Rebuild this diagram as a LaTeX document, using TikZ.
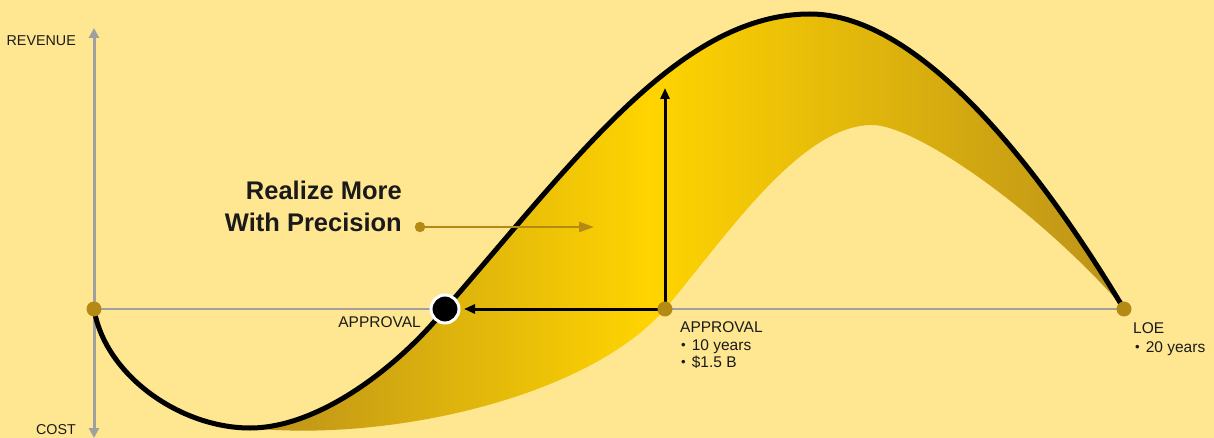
\documentclass[tikz,border=0pt]{standalone}
\usepackage{fontspec}
\setmainfont{Liberation Sans}
\usetikzlibrary{arrows.meta}
\definecolor{bg}{HTML}{FFE691}
\definecolor{gdark}{HTML}{BE9419}
\definecolor{gbright}{HTML}{FFD400}
\definecolor{dotgold}{HTML}{B58A14}
\definecolor{axisgray}{HTML}{A0A0A0}
\definecolor{txt}{HTML}{1A1A1A}
\pgfdeclarehorizontalshading{goldshade}{100bp}{color(0bp)=(gdark); color(26bp)=(gdark); color(48bp)=(gbright); color(74.4bp)=(gdark); color(100bp)=(gdark)}
\newcommand{\smbul}{\raisebox{0.6pt}{\scalebox{0.85}{•}}\hspace{6pt}}
\begin{document}
\begin{tikzpicture}[x=1pt,y=-1pt,
  axislbl/.style={font=\fontsize{14.3}{17}\selectfont, text=txt, inner sep=0pt},
  lbl/.style={font=\fontsize{15.5}{18}\selectfont, text=txt, inner sep=0pt},
  title/.style={font=\fontsize{25.5}{30}\selectfont\bfseries, text=txt, inner sep=0pt},
  vaxis/.style={draw=axisgray, line width=3pt, -{Triangle[length=10pt,width=10pt]}},
  haxis/.style={draw=axisgray, line width=1.5pt},
  curve/.style={draw=black, line width=5pt},
  barrow/.style={draw=black, line width=3pt, -{Triangle[length=11pt,width=9pt]}},
  garrow/.style={draw=dotgold, line width=2.5pt, -{Triangle[length=15pt,width=10pt]}},
  golddot/.style={circle, fill=dotgold, minimum size=15pt, inner sep=0pt},
  smalldot/.style={circle, fill=dotgold, minimum size=10.5pt, inner sep=0pt},
  bigdot/.style={circle, fill=black, draw=white, line width=3pt, minimum size=28pt, inner sep=0pt}]
\useasboundingbox (0,0) rectangle (1214,438);
\fill[bg] (0,0) rectangle (1214,438);
% key points
\coordinate (O) at (94,309);
\coordinate (A1) at (445,309);
\coordinate (A2) at (665,309);
\coordinate (L) at (1124,309);
\coordinate (ytop) at (94,28);
\coordinate (ybot) at (94,438);
\coordinate (uptip) at (665,88);
\coordinate (lefttip) at (464,309);
\coordinate (gtip) at (594,227);
% axes
\draw[vaxis] (O) -- (ytop);
\draw[vaxis] (O) -- (ybot);
\draw[haxis] (O) -- (L);
% gold band
\begin{scope}
\clip (250,428) .. controls (320,428) and (400,365) .. (445,309)
  .. controls (575,160) and (680,14) .. (810,14)
  .. controls (920,14) and (1040,169) .. (1120,305) -- (1113,296)
  .. controls (1030,205) and (915,125) .. (872,125)
  .. controls (800,125) and (725,238) .. (665,309)
  .. controls (590,395) and (400,440) .. (260,429) -- cycle;
\shade[shading=goldshade] (250,0) rectangle (1120,438);
\end{scope}
% main curve
\draw[curve] (O) .. controls (105,375) and (180,428) .. (250,428)
  .. controls (320,428) and (400,365) .. (A1)
  .. controls (575,160) and (680,14) .. (810,14)
  .. controls (920,14) and (1040,169) .. (L);
% black arrows
\draw[barrow] (A2) -- (uptip);
\draw[barrow] (A2) -- (lefttip);
% dots
\node[golddot] (o) at (O) {};
\node[golddot] (a2) at (A2) {};
\node[golddot] (loe) at (L) {};
\node[bigdot] (a1) at (A1) {};
\node[smalldot] (g) at (420,227) {};
\draw[garrow] (g.center) -- (gtip);
% labels
\node[axislbl, anchor=base east] (rev) at (76,46) {REVENUE};
\node[axislbl, anchor=base east] (cost) at (76,434) {COST};
\node[lbl, anchor=base east] (appl) at (421,327) {APPROVAL};
\node[lbl, anchor=base west] (appr) at (680,332) {APPROVAL};
\node[lbl, anchor=base west] (yrs10) at (681,350) {\smbul 10 years};
\node[lbl, anchor=base west] (cost15) at (681,367) {\smbul \$1.5 B};
\node[lbl, anchor=base west] (loel) at (1133,333) {LOE};
\node[lbl, anchor=base west] (yrs20) at (1135,352) {\smbul 20 years};
\node[title, anchor=base east] (t1) at (402,200) {Realize More};
\node[title, anchor=base east] (t2) at (402,232) {With Precision};
\end{tikzpicture}
\end{document}
